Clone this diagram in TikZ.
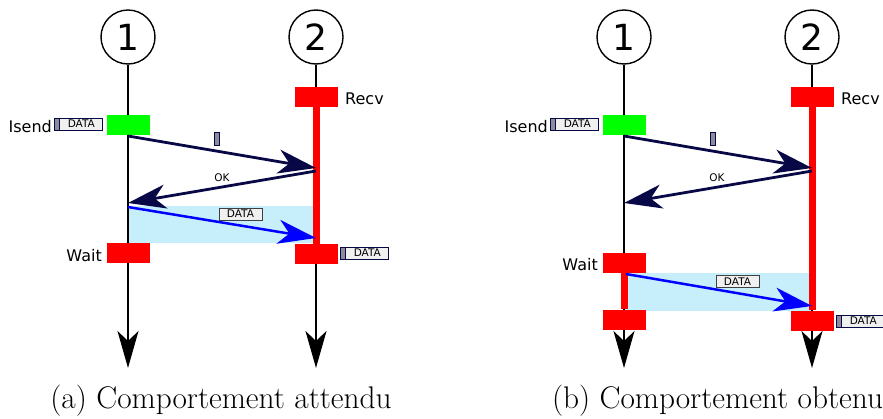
\documentclass[tikz,border=0pt]{standalone}
\usepackage{fontspec}
\newfontfamily\dejavu{DejaVu Sans}
\usetikzlibrary{arrows.meta}
\definecolor{navy}{RGB}{8,8,70}
\definecolor{lblue}{RGB}{198,238,251}
\definecolor{markgray}{RGB}{140,140,155}
\definecolor{boxfill}{RGB}{240,240,240}
\tikzset{
  proc/.style={circle,draw=black,line width=1.4pt,minimum size=54pt,inner sep=0pt,font=\dejavu\fontsize{36}{36}\selectfont},
  life/.style={draw=black,line width=2pt,-{Stealth[length=37pt,width=21pt,inset=10pt]}},
  redline/.style={draw=red,line width=6.5pt},
  redbox/.style={rectangle,fill=red,draw=none,minimum width=43pt,minimum height=20pt,inner sep=0pt},
  greenbox/.style={rectangle,fill=green,draw=none,minimum width=43pt,minimum height=20pt,inner sep=0pt},
  msg/.style={draw=navy,line width=2.8pt,-{Stealth[length=38pt,width=24pt,inset=11pt]}},
  datamsg/.style={draw=blue,line width=2.5pt,-{Stealth[length=38pt,width=24pt,inset=11pt]}},
  zone/.style={fill=lblue,draw=none},
  lbl/.style={font=\dejavu\fontsize{16}{16}\selectfont,inner sep=0pt},
  databox/.style={rectangle,fill=boxfill,draw=navy,line width=0.8pt,minimum width=43pt,minimum height=12pt,inner sep=0pt,font=\dejavu\fontsize{10.5}{10.5}\selectfont},
  databoxg/.style={databox,draw=black!75},
  grmark/.style={rectangle,fill=markgray,draw=navy,line width=0.8pt,minimum width=5pt,minimum height=12pt,inner sep=0pt},
  smallmark/.style={rectangle,fill=markgray,draw=navy,line width=0.8pt,minimum width=5pt,minimum height=13pt,inner sep=0pt},
  oklbl/.style={font=\dejavu\fontsize{10.5}{10.5}\selectfont,inner sep=0pt},
  caption/.style={font=\fontsize{31.3}{33}\selectfont,inner sep=0pt,anchor=base}
}
\begin{document}
\begin{tikzpicture}[x=1pt,y=-1pt]
\useasboundingbox (0,0) rectangle (883,418);
% ================= panel (a) =================
\fill[zone] (128,206) rectangle (316,243);
\node[proc] (c1a) at (128,37) {1};
\node[proc] (c2a) at (316,37) {2};
\coordinate (e1a) at (128,368);
\coordinate (e2a) at (316,368);
\draw[life] (c1a) -- (e1a);
\draw[life] (c2a) -- (e2a);
\node[greenbox] (isenda) at (128.5,125) {};
\node[redbox] (recva) at (316.5,97) {};
\node[redbox] (wait1a) at (128.5,253) {};
\node[redbox] (wait2a) at (316.5,254) {};
\draw[redline] (recva) -- (wait2a);
% labels
\node[lbl,anchor=base east] (tisa) at (52,132) {Isend};
\node[grmark] (mk1a) at (56.5,124) {};
\node[databox,anchor=west] (d1a) at (mk1a.east) {DATA};
\node[lbl,anchor=base west] (trecva) at (345,104) {Recv};
\node[lbl,anchor=base east] (twaita) at (102,261) {Wait};
\node[grmark] (mk2a) at (342.5,253) {};
\node[databox,anchor=west] (d2a) at (mk2a.east) {DATA};
% messages
\coordinate (m1sa) at (128,136);
\coordinate (m1ea) at (316,168);
\coordinate (oksa) at (316,171);
\coordinate (okea) at (128,203);
\coordinate (dsa) at (128,207);
\coordinate (dea) at (316,238);
\draw[msg] (m1sa) -- (m1ea);
\draw[msg] (oksa) -- (okea);
\draw[datamsg] (dsa) -- (dea);
\node[smallmark] (sma) at (216.5,138.5) {};
\node[oklbl] (oka) at (222,178) {OK};
\node[databoxg] (dma) at (240.5,214) {DATA};
\node[caption] (capa) at (221,408) {(a) Comportement attendu};
% ================= panel (b) =================
\fill[zone] (624,273) rectangle (812,311);
\node[proc] (c1b) at (624,37) {1};
\node[proc] (c2b) at (812,37) {2};
\coordinate (e1b) at (624,368);
\coordinate (e2b) at (812,368);
\draw[life] (c1b) -- (e1b);
\draw[life] (c2b) -- (e2b);
\node[greenbox] (isendb) at (624.5,125) {};
\node[redbox] (recvb) at (812.5,97) {};
\node[redbox] (wait1b) at (624.5,263) {};
\node[redbox] (end1b) at (624.5,319.5) {};
\node[redbox] (end2b) at (812.5,320.5) {};
\draw[redline] (recvb) -- (end2b);
\draw[redline] (wait1b) -- (end1b);
% labels
\node[lbl,anchor=base east] (tisb) at (548,132) {Isend};
\node[grmark] (mk1b) at (552.5,124) {};
\node[databox,anchor=west] (d1b) at (mk1b.east) {DATA};
\node[lbl,anchor=base west] (trecvb) at (841,104) {Recv};
\node[lbl,anchor=base east] (twaitb) at (598,270) {Wait};
\node[grmark] (mk2b) at (838.5,321) {};
\node[databox,anchor=west] (d2b) at (mk2b.east) {DATA};
% messages
\coordinate (m1sb) at (624,136);
\coordinate (m1eb) at (812,168);
\coordinate (oksb) at (812,171);
\coordinate (okeb) at (624,203);
\coordinate (dsb) at (626,274);
\coordinate (deb) at (812,306);
\draw[msg] (m1sb) -- (m1eb);
\draw[msg] (oksb) -- (okeb);
\draw[datamsg] (dsb) -- (deb);
\node[smallmark] (smb) at (712.5,138.5) {};
\node[oklbl] (okb) at (717,178) {OK};
\node[databoxg] (dmb) at (737.5,281.5) {DATA};
\node[caption] (capb) at (717.5,408) {(b) Comportement obtenu};
\end{tikzpicture}
\end{document}
